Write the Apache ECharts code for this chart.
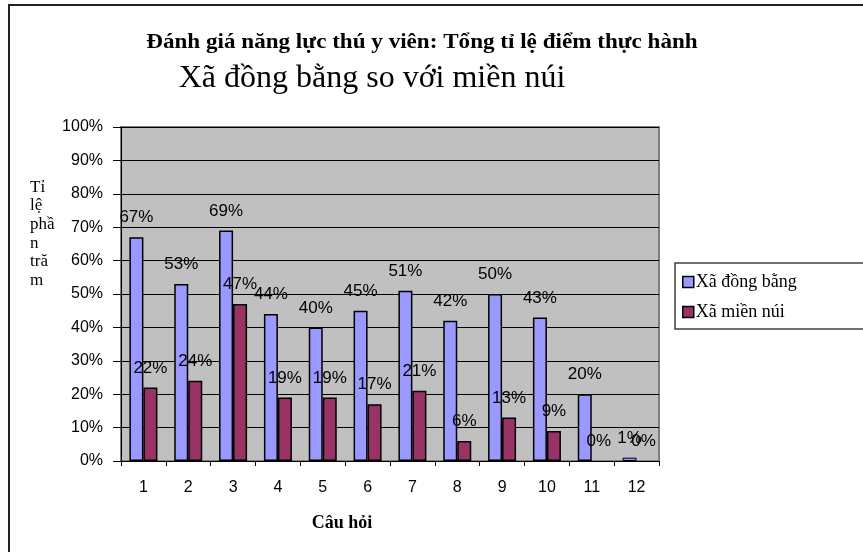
<!DOCTYPE html>
<html>
<head>
<meta charset="utf-8">
<script src="https://cdn.jsdelivr.net/npm/echarts@6/dist/echarts.min.js"></script>
<style>
  html, body { margin: 0; padding: 0; background: #fff; }
  #chart { width: 863px; height: 552px; }
</style>
</head>
<body>
<div id="chart"></div>
<script>
// Question numbers on the x axis
const questions = ['1', '2', '3', '4', '5', '6', '7', '8', '9', '10', '11', '12'];
// Practical score percentage per question
const lowlandScores = [67, 53, 69, 44, 40, 45, 51, 42, 50, 43, 20, 1];
const mountainScores = [22, 24, 47, 19, 19, 17, 21, 6, 13, 9, 0, 0];
const seriesNames = ['Xã đồng bằng', 'Xã miền núi'];
const yTicks = [0, 10, 20, 30, 40, 50, 60, 70, 80, 90, 100];

const serif = 'Liberation Serif';
const sans = 'Liberation Sans';

const chart = echarts.init(document.getElementById('chart'), null, { renderer: 'canvas' });

const labelStyle = {
  show: true,
  position: 'top',
  distance: 11,
  formatter: p => p.value + '%',
  fontFamily: sans,
  fontSize: 17,
  color: '#000'
};

// zero-height bars get no outline so they stay invisible; very short bars get a thin one
const barData = values => values.map(v =>
  v === 0 ? { value: v, itemStyle: { borderWidth: 0 } }
  : v < 3 ? { value: v, itemStyle: { borderWidth: 1 } }
  : v);

chart.setOption({
  backgroundColor: '#fff',
  animation: false,
  grid: {
    left: 121, right: 204, top: 127, bottom: 91,
    show: true,
    backgroundColor: '#C0C0C0',
    borderColor: '#808080',
    borderWidth: 2
  },
  legend: {
    orient: 'vertical',
    left: 675, top: 263,
    data: seriesNames,
    icon: 'rect',
    itemWidth: 11, itemHeight: 11,
    itemGap: 12,
    padding: [10, 220, 8, 7],
    backgroundColor: '#fff',
    borderColor: '#404040',
    borderWidth: 1.5,
    itemStyle: { borderColor: '#000', borderWidth: 1.5 },
    textStyle: { fontFamily: serif, fontSize: 18, color: '#000', padding: [0, 0, 0, -3] }
  },
  xAxis: {
    type: 'category',
    data: questions,
    axisLine: { lineStyle: { color: '#000', width: 1 } },
    axisTick: { show: true, length: 5, lineStyle: { color: '#000' } },
    axisLabel: { fontFamily: sans, fontSize: 16, color: '#000', margin: 19 }
  },
  yAxis: {
    type: 'value',
    min: yTicks[0], max: yTicks[yTicks.length - 1], interval: 10,
    axisLine: { show: true, lineStyle: { color: '#000', width: 1 } },
    axisTick: { show: true, length: 8, lineStyle: { color: '#000' } },
    axisLabel: { fontFamily: sans, fontSize: 16, color: '#000', margin: 18, formatter: v => v + '%' },
    splitLine: { show: true, lineStyle: { color: '#000', width: 1 } }
  },
  series: [
    {
      name: seriesNames[0],
      type: 'bar',
      data: barData(lowlandScores),
      barWidth: 14,
      barGap: '0%',
      itemStyle: { color: '#9999FF', borderColor: '#000', borderWidth: 1.5 },
      label: labelStyle
    },
    {
      name: seriesNames[1],
      type: 'bar',
      data: barData(mountainScores),
      barWidth: 14,
      barGap: '0%',
      itemStyle: { color: '#993366', borderColor: '#000', borderWidth: 1.5 },
      label: labelStyle
    }
  ],
  graphic: [
    {
      type: 'rect', silent: true, z: 100,
      shape: { x: 9, y: 5, width: 1000, height: 1000 },
      style: { fill: 'none', stroke: '#222', lineWidth: 2 }
    },
    {
      type: 'text', x: 422, y: 43, scaleX: 1.1,
      style: {
        text: 'Đánh giá năng lực thú y viên: Tổng tỉ lệ điểm thực hành',
        fontFamily: serif, fontWeight: 'bold', fontSize: 21, fill: '#000',
        textAlign: 'center', textVerticalAlign: 'middle'
      }
    },
    {
      type: 'text', x: 372, y: 79,
      style: {
        text: 'Xã đồng bằng so với miền núi',
        fontFamily: serif, fontSize: 32, fill: '#000',
        textAlign: 'center', textVerticalAlign: 'middle'
      }
    },
    {
      type: 'text', x: 30, y: 178,
      style: {
        text: 'Tỉ\nlệ\nphầ\nn\ntră\nm',
        fontFamily: serif, fontSize: 17, lineHeight: 18.6, fill: '#000',
        textAlign: 'left', textVerticalAlign: 'top'
      }
    },
    {
      type: 'text', x: 342, y: 523,
      style: {
        text: 'Câu hỏi',
        fontFamily: serif, fontWeight: 'bold', fontSize: 18, fill: '#000',
        textAlign: 'center', textVerticalAlign: 'middle'
      }
    }
  ]
});
</script>
</body>
</html>
